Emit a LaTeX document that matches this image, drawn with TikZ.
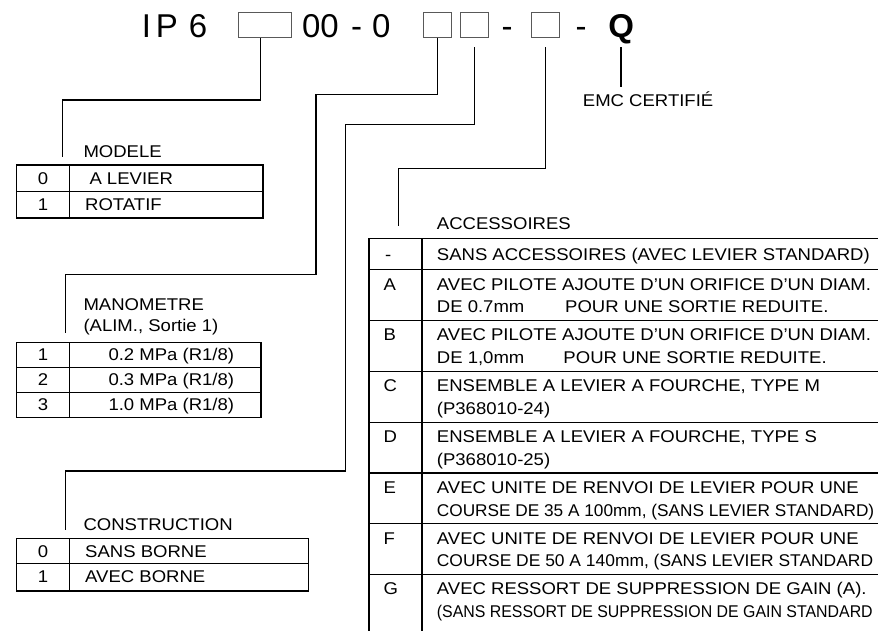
\documentclass[tikz,border=0pt]{standalone}
\usepackage{fontspec}
\usepackage{graphicx}
\setmainfont{Liberation Sans}
\newfontfamily\tabfont[FakeStretch=1.09]{Liberation Sans}
\newfontfamily\headfont{Liberation Sans}
\tikzset{
  conn/.style={line width=1.5pt},
  frame/.style={line width=1.5pt},
  codebox/.style={draw=black!65, line width=0.8pt, inner sep=0pt, outer sep=0pt, minimum height=25pt},
  hd/.style={anchor=base, inner sep=0pt, font=\headfont\fontsize{33}{38}\selectfont},
  hdb/.style={anchor=base, inner sep=0pt, font=\headfont\bfseries\fontsize{33}{38}\selectfont},
  txt/.style={anchor=base west, inner sep=0pt, font=\tabfont\fontsize{17}{20}\selectfont},
  key/.style={anchor=base, inner sep=0pt, font=\tabfont\fontsize{17}{20}\selectfont},
}
\begin{document}
\begin{tikzpicture}[x=1pt,y=-1pt]
\useasboundingbox (0,0) rectangle (878,630);
\fill[white] (0,0) rectangle (878,630);
\clip (0,0) rectangle (878,630);

% ---- header code ----
\node[hd] (hI) at (146.5,37.3) {I};
\node[hd] (hP) at (166.8,37.3) {P};
\node[hd] (h6) at (198,37.3) {6};
\node[codebox, minimum width=52.4pt] (b1) at (264.7,25.3) {};
\node[hd] (h00) at (320.4,37.3) {00};
\node[hd] (hm1) at (356.7,37.3) {-};
\node[hd] (h0) at (381.2,37.3) {0};
\node[codebox, minimum width=28.3pt] (b2) at (437.3,25.3) {};
\node[codebox, minimum width=28.3pt] (b3) at (474.6,25.3) {};
\node[hd] (hm2) at (507,37.3) {-};
\node[codebox, minimum width=28.4pt] (b4) at (545.6,25.3) {};
\node[hd] (hm3) at (581.2,37.3) {-};
\node[hdb] (q) at (621.2,37.3) {Q};

% ---- connectors ----
\coordinate (k1) at (260.5,100);
\coordinate (e1) at (62.3,157);
\draw[conn] (b1.south -| k1) -- (k1) -| (e1);

\coordinate (k2) at (316,94.3);
\coordinate (m2) at (65.7,274.5);
\coordinate (e2) at (65.7,332.7);
\draw[conn] (b2.south) |- (k2) |- (m2) -- (e2);

\coordinate (k3) at (345.7,124.3);
\coordinate (m3) at (65.7,471);
\coordinate (e3) at (65.7,530);
\draw[conn] ([yshift=-9.5pt]b3.south) |- (k3) |- (m3) -- (e3);

\coordinate (k4) at (398.3,168.3);
\coordinate (e4) at (398.3,225.7);
\draw[conn] ([yshift=-9.5pt]b4.south) |- (k4) -- (e4);

\coordinate (qe) at (621.2,87.1);
\draw[conn] (q.base) ++(0,10) -- (qe);
\node[txt] (emc) at (582.7,106.5) {EMC CERTIFIÉ};

% ---- MODELE ----
\node[txt] (tmod) at (83.3,157.3) {MODELE};
\draw[frame] (16.7,165) rectangle (263,218);
\draw[frame] (16.7,191.5) -- (263,191.5);
\draw[frame] (69.3,165) -- (69.3,218);
\node[key] (m0) at (43,184.3) {0};
\node[txt] (m0t) at (89.3,184.3) {A LEVIER};
\node[key] (m1) at (43,210) {1};
\node[txt] (m1t) at (85,210) {ROTATIF};

% ---- MANOMETRE ----
\node[txt] (tman) at (83.3,310) {MANOMETRE};
\node[txt] (tman2) at (83.3,331.7) {(ALIM., Sortie 1)};
\draw[frame] (16.7,342.3) rectangle (261,417.3);
\draw[frame] (16.7,367.3) -- (261,367.3);
\draw[frame] (16.7,392.3) -- (261,392.3);
\draw[frame] (69.3,342.3) -- (69.3,417.3);
\node[key] (g1) at (43,360.5) {1};
\node[txt] (g1t) at (108.3,360.5) {0.2 MPa (R1/8)};
\node[key] (g2) at (43,385.5) {2};
\node[txt] (g2t) at (108.3,385.5) {0.3 MPa (R1/8)};
\node[key] (g3) at (43,410.5) {3};
\node[txt] (g3t) at (108.3,410.5) {1.0 MPa (R1/8)};

% ---- CONSTRUCTION ----
\node[txt] (tcon) at (83.3,530) {CONSTRUCTION};
\draw[frame] (16.7,538.3) rectangle (308.3,591);
\draw[frame] (16.7,563.3) -- (308.3,563.3);
\draw[frame] (69.3,538.3) -- (69.3,591);
\node[key] (c0) at (43,557.3) {0};
\node[txt] (c0t) at (85,557.3) {SANS BORNE};
\node[key] (c1) at (43,582.7) {1};
\node[txt] (c1t) at (85,582.7) {AVEC BORNE};

% ---- ACCESSOIRES ----
\node[txt] (tacc) at (436.7,229) {ACCESSOIRES};
\draw[frame] (369,238.3) -- (369,640);
\draw[frame] (422,238.3) -- (422,640);
\foreach \yy in {238.3,269.5,320.3,371.3,422.3,473,523.5,574.3}
  \draw[frame] (369,\yy) -- (890,\yy);

\node[txt] (aM) at (385,260) {-};
\node[txt] (aMt) at (436.7,260) {SANS ACCESSOIRES (AVEC LEVIER STANDARD)};

\node[txt] (aA) at (383.3,290) {A};
\node[txt] (aA1) at (436.7,290) {AVEC PILOTE AJOUTE D’UN ORIFICE D’UN DIAM.};
\node[txt] (aA2) at (436.7,312.5) {\makebox[128.3pt][l]{DE 0.7mm}POUR UNE SORTIE REDUITE.};

\node[txt] (aB) at (383.3,340.8) {B};
\node[txt] (aB1) at (436.7,340.8) {AVEC PILOTE AJOUTE D’UN ORIFICE D’UN DIAM.};
\node[txt] (aB2) at (436.7,363.3) {\makebox[126.6pt][l]{DE 1,0mm}POUR UNE SORTIE REDUITE.};

\node[txt] (aC) at (383.3,391.8) {C};
\node[txt] (aC1) at (436.7,391.8) {ENSEMBLE A LEVIER A FOURCHE, TYPE M};
\node[txt] (aC2) at (436.7,414.3) {(P368010-24)};

\node[txt] (aD) at (383.3,442.8) {D};
\node[txt] (aD1) at (436.7,442.8) {ENSEMBLE A LEVIER A FOURCHE, TYPE S};
\node[txt] (aD2) at (436.7,465.3) {(P368010-25)};

\node[txt] (aE) at (383.3,493.5) {E};
\node[txt] (aE1) at (436.7,493.5) {AVEC UNITE DE RENVOI DE LEVIER POUR UNE};
\node[txt] (aE2) at (436.7,516) {\scalebox{0.93}[1]{COURSE DE 35 A 100mm, (SANS LEVIER STANDARD)}};

\node[txt] (aF) at (383.3,544) {F};
\node[txt] (aF1) at (436.7,544) {AVEC UNITE DE RENVOI DE LEVIER POUR UNE};
\node[txt] (aF2) at (436.7,566.5) {\scalebox{0.94}[1]{COURSE DE 50 A 140mm, (SANS LEVIER STANDARD}};

\node[txt] (aG) at (383.3,594.8) {G};
\node[txt] (aG1) at (436.7,594.8) {AVEC RESSORT DE SUPPRESSION DE GAIN (A).};
\node[txt] (aG2) at (436.7,617.3) {\scalebox{0.858}[1]{(SANS RESSORT DE SUPPRESSION DE GAIN STANDARD}};
\end{tikzpicture}
\end{document}
